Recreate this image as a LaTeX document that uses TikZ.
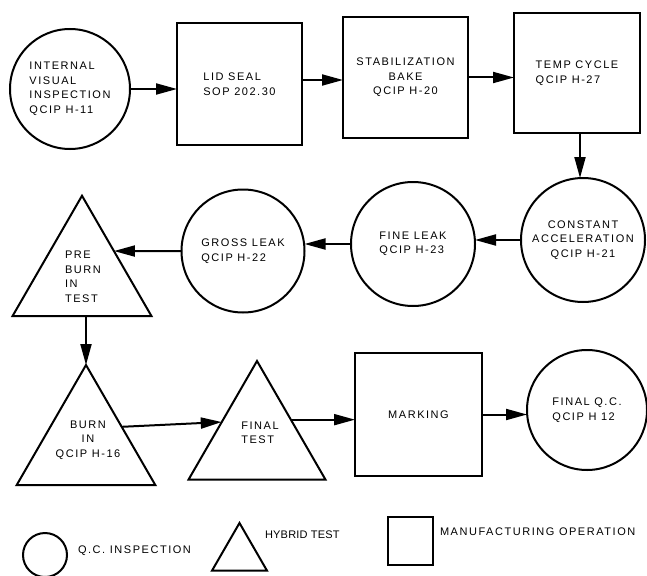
\documentclass[tikz,border=0pt]{standalone}
\usepackage{fontspec}
\setmainfont{Liberation Sans}[LetterSpace=14]
\newfontfamily\plainfont{Liberation Sans}[LetterSpace=2]
\usetikzlibrary{shapes.geometric,arrows.meta}
\begin{document}
\begin{tikzpicture}[x=1pt,y=-1pt,
  every node/.style={font=\fontsize{11}{14.5}\selectfont, align=left, inner sep=0pt, outer sep=0pt},
  qc/.style={draw, circle, line width=2pt, minimum size=#1},
  qc/.default=124,
  op/.style={draw, rectangle, line width=2pt},
  ht/.style={draw, regular polygon, regular polygon sides=3, line width=2pt, minimum size=#1},
  ht/.default=160,
  flow/.style={-{Triangle[length=21pt,width=11pt]}, line width=2pt}]
\useasboundingbox (0,0) rectangle (647,575);

% top row
\node[qc=120] (ivi) at (70,89) {INTERNAL\\VISUAL\\INSPECTION\\QCIP H-11};
\node[op, minimum width=125, minimum height=122] (lid) at (239.5,84) {LID SEAL\\SOP 202.30};
\node[op, minimum width=125, minimum height=121, align=center] (stab) at (405.5,77.5) {STABILIZATION\\BAKE\\QCIP H-20};
\node[op, minimum width=126, minimum height=120] (temp) at (577,73) {TEMP CYCLE\\QCIP H-27};

% middle row
\node[qc=124, align=center] (const) at (583,240) {CONSTANT\\ACCELERATION\\QCIP H-21};
\node[qc=124] (fine) at (413,244) {FINE LEAK\\QCIP H-23};
\node[qc=123] (gross) at (243,251) {GROSS LEAK\\QCIP H-22};
\node[ht=160.5] (preburn) at (82,276) {};
\node (preburntxt) at (83,277) {PRE\\BURN\\IN\\TEST};

% bottom row
\node[ht=160] (burnin) at (86,445) {};
\node[align=center] (burnintxt) at (88,440) {BURN\\IN\\QCIP H-16};
\node[ht=158] (ftest) at (257,440) {};
\node (ftesttxt) at (260,433) {FINAL\\TEST};
\node[op, minimum width=127, minimum height=123] (mark) at (418.5,414.5) {MARKING};
\node[qc=120] (fqc) at (587,410) {FINAL Q.C.\\QCIP H 12};

% connectors
\draw[flow] (ivi) -- (ivi -| lid.west);
\draw[flow] ([yshift=4pt]lid.east) -- ([yshift=4pt]lid.east -| stab.west);
\draw[flow] (stab.east) -- (stab.east -| temp.west);
\draw[flow] ([xshift=-3pt]const.north |- temp.south) -- ([xshift=-3pt]const.north);
\draw[flow] (const.west) -- (const.west -| fine.east);
\draw[flow] (fine.west) -- (fine.west -| gross.east);
\draw[flow] (gross.west) -- (preburn.38);
\draw[flow] (burnin.corner 1 |- preburn.side 2) -- (burnin.corner 1);
\draw[flow] (burnin.27) -- (ftest.153);
\draw[flow] (ftest.31) -- (ftest.31 -| mark.west);
\draw[flow] (mark.east) -- (mark.east -| fqc.west);

% legend
\node[qc=44] (lgc) at (45,555) {};
\node[anchor=west] (lgctxt) at (78,551) {Q.C. INSPECTION};
\node[ht=63.5] (lgt) at (239.5,554.75) {};
\node[anchor=west] (lgttxt) at (265,535) {\plainfont HYBRID TEST};
\node[op, minimum width=45, minimum height=48] (lgs) at (410.5,541) {};
\node[anchor=west] (lgstxt) at (440,532) {MANUFACTURING OPERATION};
\end{tikzpicture}
\end{document}
